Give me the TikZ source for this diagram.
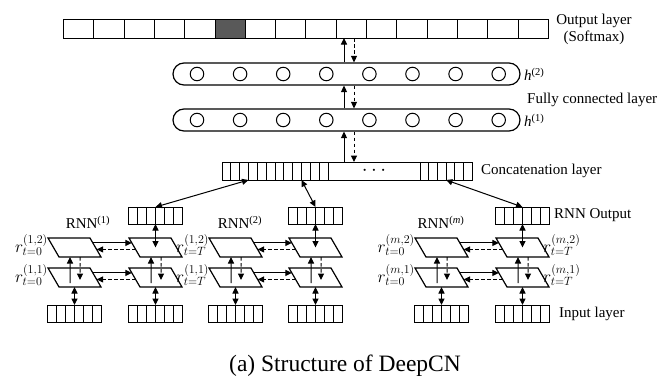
\documentclass[tikz,border=0pt]{standalone}
\usepackage{fontspec}
\setmainfont{Liberation Serif}
\usetikzlibrary{arrows.meta,calc,fit}
\newcommand\mkcells[6]{% name, left x, center y, count, cell width, height
  \foreach \k in {1,...,#4} {
    \node[cellbox, minimum width=#5, minimum height=#6, anchor=west] (#1-\k) at ({#2+(\k-1)*#5}, #3) {};
  }
  \node[fit=(#1-1)(#1-#4), inner sep=0pt, outer sep=0pt] (#1) {};
}
\begin{document}
\begin{tikzpicture}[x=1pt,y=-1pt,
  cellbox/.style={draw, line width=0.9pt, inner sep=0pt, outer sep=0pt},
  para/.style={draw, line width=1.2pt, minimum width=42pt, minimum height=19pt, inner sep=0pt, outer sep=0pt, xslant=-0.579},
  bar/.style={draw, line width=1.2pt, rounded corners=11pt, minimum width=347pt, minimum height=22pt, inner sep=0pt},
  unit/.style={draw, circle, line width=1pt, minimum size=13.5pt, inner sep=0pt},
  fwd/.style={line width=1pt, -{Triangle[length=6.5pt,width=6pt]}},
  bwd/.style={line width=1pt, dash pattern=on 3.5pt off 2.5pt, -{Triangle[length=6.5pt,width=6pt]}},
  both/.style={line width=1pt, {Triangle[length=6.5pt,width=6pt]}-{Triangle[length=6.5pt,width=6pt]}},
  lbl/.style={inner sep=0pt, font=\fontsize{15}{17}\selectfont},
  rlbl/.style={inner sep=0pt, font=\fontsize{16.5}{18}\selectfont}
]
\useasboundingbox (0,0) rectangle (661,383);

% output layer
\mkcells{o}{63.5}{28.5}{16}{30.3}{19}
\fill[black!65] (o-6.north west) rectangle (o-6.south east);
\draw[line width=0.9pt] (o-6.north west) rectangle (o-6.south east);
\node[lbl, align=center] (olbl) at (594,29) {Output layer\\(Softmax)};

% fully connected layers
\node[bar] (h2) at (346.5,74) {};
\node[bar] (h1) at (346.5,120) {};
\foreach \i in {0,...,7} {
  \node[unit] (c2-\i) at ({197+43.1*\i},74) {};
  \node[unit] (c1-\i) at ({197+43.1*\i},120) {};
}
\node[lbl, anchor=west] (h2l) at (524,74) {\textit{h}\textsuperscript{(2)}};
\node[lbl, anchor=west] (h1l) at (524,120) {\textit{h}\textsuperscript{(1)}};
\node[lbl, anchor=west] (fcl) at (527,100) {Fully connected layer};

% concatenation layer
\mkcells{cc1}{222}{171}{6}{8.83}{18}
\mkcells{cc2}{275}{171}{6}{8.83}{18}
\node[cellbox, minimum width=92pt, minimum height=18pt, anchor=west, font=\fontsize{20}{20}\selectfont] (ccd) at (328,171) {$\cdots$};
\mkcells{cc3}{420}{171}{6}{8.67}{18}
\node[lbl, anchor=west] (ccl) at (481,171) {Concatenation layer};

% vertical arrows in the upper part
\coordinate (ax) at (344,0);
\coordinate (bx) at (354,0);
\draw[fwd] (h2.north -| ax) -- (o.south -| ax);
\draw[bwd] (o.south -| bx) -- (h2.north -| bx);
\draw[fwd] (h1.north -| ax) -- (h2.south -| ax);
\draw[bwd] (h2.south -| bx) -- (h1.north -| bx);
\draw[fwd] (ccd.north -| ax) -- (h1.south -| ax);
\draw[bwd] (h1.south -| bx) -- (ccd.north -| bx);

% RNN columns
\foreach \nm/\xo in {1a/48,1b/129,2a/209,2b/289,ma/415,mb/496} {
  \node[para] (p\nm-u) at ({\xo+26.5},247.5) {};
  \node[para] (p\nm-l) at ({\xo+26.5},277.5) {};
  \mkcells{in\nm}{\xo-0.5}{313.5}{6}{9}{17}
  \draw[fwd] ($(p\nm-l.center)+(-4.5,5.5)$) -- ($(p\nm-u.south)+(-10,0)$);
  \draw[bwd] (p\nm-u.south) -- ($(p\nm-l.center)+(5.5,2.5)$);
  \draw[both] (p\nm-l.center |- p\nm-l.south) -- (in\nm.north);
}
% horizontal arrows
\foreach \i in {1,2,m} {
  \foreach \r in {u,l} {
    \draw[fwd] ($(p\i a-\r.north east)!0.26!(p\i a-\r.south east)$) -- ($(p\i b-\r.north west)!0.26!(p\i b-\r.south west)$);
    \draw[bwd] ($(p\i b-\r.north west)!0.6!(p\i b-\r.south west)$) -- ($(p\i a-\r.north east)!0.6!(p\i a-\r.south east)$);
  }
}
% RNN output boxes
\mkcells{ob1}{128.5}{215.5}{6}{9}{17}
\mkcells{ob2}{288.5}{215.5}{6}{9}{17}
\mkcells{obm}{495.5}{215.5}{6}{9}{17}
\draw[both] (ob1.south) -- (p1b-u.center);
\draw[both] (ob2.south) -- (p2b-u.center);
\draw[both] (obm.south) -- (pmb-u.center);
\draw[both] (cc1-3.south east) -- (ob1-3.north east);
\draw[both] (cc2-3.south east) -- (ob2-3.north east);
\draw[both] (cc3-3.south east) -- (obm-3.north east);
\node[lbl, anchor=west] (rol) at (554,215.5) {RNN Output};
\node[lbl, anchor=west] (inl) at (559,313.5) {Input layer};

% RNN labels
\node[lbl] (rnn1) at (88,222) {RNN\textsuperscript{(1)}};
\node[lbl] (rnn2) at (240,222) {RNN\textsuperscript{(2)}};
\node[lbl] (rnnm) at (441,222) {RNN\textsuperscript{(\textit{m})}};

% r labels
\node[rlbl, anchor=east] (r1u0) at ($(p1a-u.north west)+(0,7)$) {$r^{(1,2)}_{t=0}$};
\node[rlbl, anchor=east] (r1l0) at ($(p1a-l.north west)+(0,7)$) {$r^{(1,1)}_{t=0}$};
\node[rlbl, anchor=west] (r1uT) at ($(p1b-u.north east)+(5,7)$) {$r^{(1,2)}_{t=T}$};
\node[rlbl, anchor=west] (r1lT) at ($(p1b-l.north east)+(5,7)$) {$r^{(1,1)}_{t=T}$};
\node[rlbl, anchor=east] (rmu0) at ($(pma-u.north west)+(0,7)$) {$r^{(m,2)}_{t=0}$};
\node[rlbl, anchor=east] (rml0) at ($(pma-l.north west)+(0,7)$) {$r^{(m,1)}_{t=0}$};
\node[rlbl, anchor=west] (rmuT) at ($(pmb-u.north east)+(5,7)$) {$r^{(m,2)}_{t=T}$};
\node[rlbl, anchor=west] (rmlT) at ($(pmb-l.north east)+(5,7)$) {$r^{(m,1)}_{t=T}$};

% caption
\node[inner sep=0pt, font=\fontsize{23.5}{26}\selectfont] (cap) at (345,366) {(a) Structure of DeepCN};
\end{tikzpicture}
\end{document}
